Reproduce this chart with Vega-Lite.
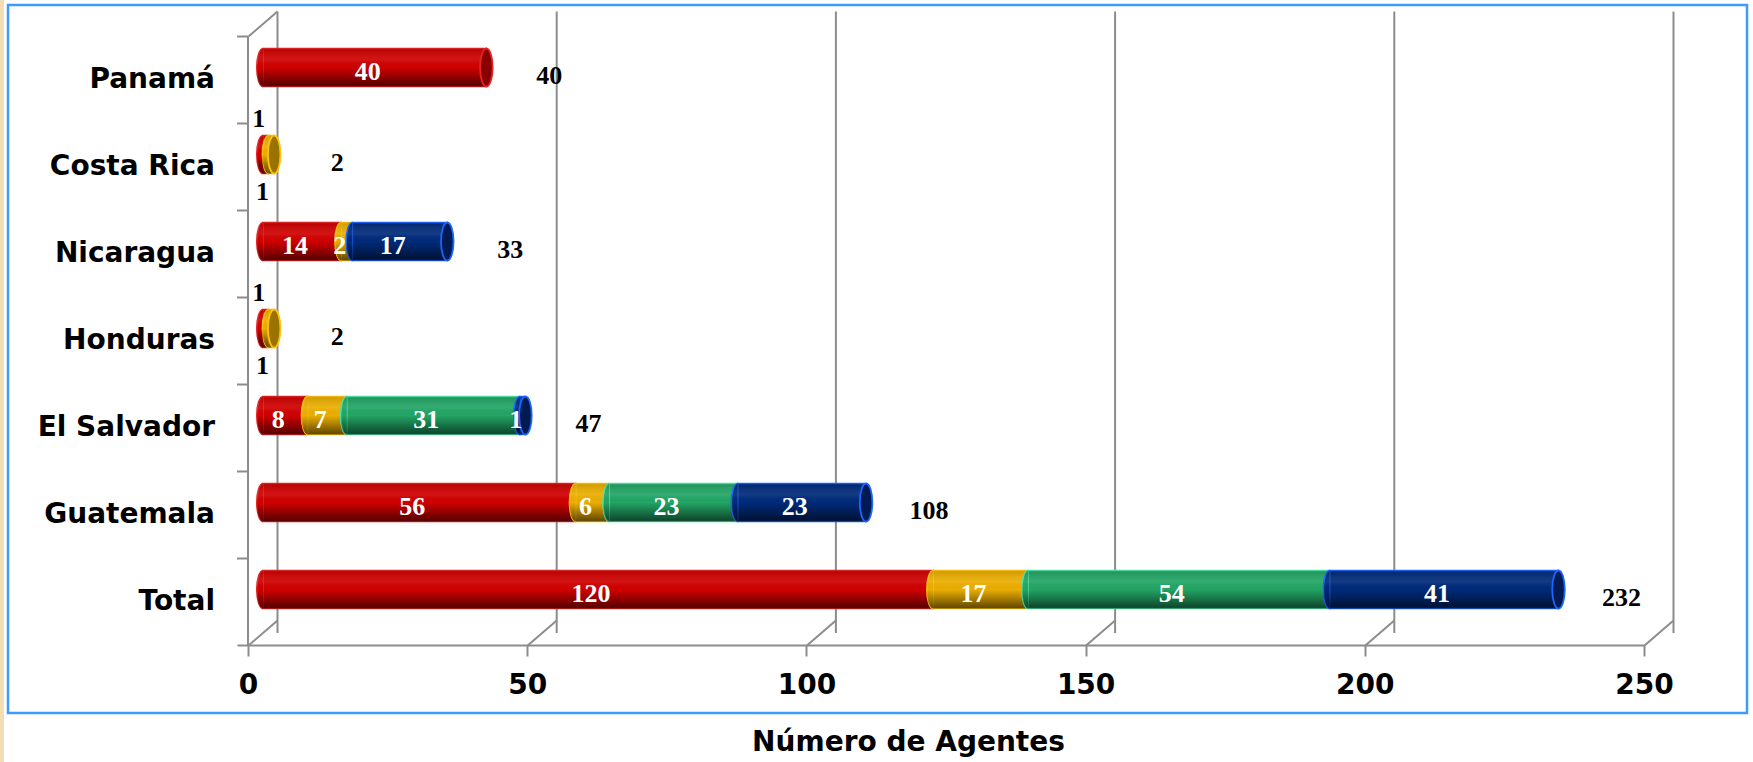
{
  "$schema": "https://vega.github.io/schema/vega-lite/v6.json",
  "autosize": "none",
  "width": 1396,
  "height": 609,
  "padding": {"left": 263, "top": 24, "right": 94, "bottom": 129},
  "background": "white",
  "config": {
    "view": {"stroke": null},
    "axis": {"labelFont": "DejaVu Sans", "titleFont": "DejaVu Sans"}
  },
  "datasets": {
    "agentes": [
      {"pais": "Panamá", "serie": "Serie 1", "valor": 40},
      {"pais": "Costa Rica", "serie": "Serie 1", "valor": 1},
      {"pais": "Costa Rica", "serie": "Serie 2", "valor": 1},
      {"pais": "Nicaragua", "serie": "Serie 1", "valor": 14},
      {"pais": "Nicaragua", "serie": "Serie 2", "valor": 2},
      {"pais": "Nicaragua", "serie": "Serie 4", "valor": 17},
      {"pais": "Honduras", "serie": "Serie 1", "valor": 1},
      {"pais": "Honduras", "serie": "Serie 2", "valor": 1},
      {"pais": "El Salvador", "serie": "Serie 1", "valor": 8},
      {"pais": "El Salvador", "serie": "Serie 2", "valor": 7},
      {"pais": "El Salvador", "serie": "Serie 3", "valor": 31},
      {"pais": "El Salvador", "serie": "Serie 4", "valor": 1},
      {"pais": "Guatemala", "serie": "Serie 1", "valor": 56},
      {"pais": "Guatemala", "serie": "Serie 2", "valor": 6},
      {"pais": "Guatemala", "serie": "Serie 3", "valor": 23},
      {"pais": "Guatemala", "serie": "Serie 4", "valor": 23},
      {"pais": "Total", "serie": "Serie 1", "valor": 120},
      {"pais": "Total", "serie": "Serie 2", "valor": 17},
      {"pais": "Total", "serie": "Serie 3", "valor": 54},
      {"pais": "Total", "serie": "Serie 4", "valor": 41}
    ],
    "rejilla": [{"v": 0}, {"v": 50}, {"v": 100}, {"v": 150}, {"v": 200}, {"v": 250}]
  },
  "data": {"name": "agentes"},
  "transform": [
    {"stack": "valor", "groupby": ["pais"], "sort": [{"field": "serie", "order": "ascending"}], "as": ["x0", "x1"]}
  ],
  "layer": [
    {
      "data": {"values": [{}]},
      "mark": {"type": "rect", "fill": "#F3DDB3", "stroke": null},
      "encoding": {"x": {"value": -263}, "x2": {"value": -259}, "y": {"value": -24}, "y2": {"value": 738}}
    },
    {
      "data": {"values": [{}]},
      "mark": {"type": "rect", "fill": null, "stroke": "#3D9BFF", "strokeWidth": 2.5},
      "encoding": {"x": {"value": -255}, "x2": {"value": 1484}, "y": {"value": -19}, "y2": {"value": 689}}
    },
    {
      "data": {"name": "rejilla"},
      "mark": {"type": "rule", "color": "#8C8C8C", "strokeWidth": 2, "xOffset": 14.5, "yOffset": -12.5, "y2Offset": -12.5},
      "encoding": {"x": {"field": "v", "type": "quantitative", "title": "Número de Agentes"}}
    },
    {
      "data": {"name": "rejilla"},
      "mark": {"type": "rule", "color": "#8C8C8C", "strokeWidth": 2, "xOffset": -14.5, "x2Offset": 14.5, "yOffset": 12.5, "y2Offset": -12.5},
      "encoding": {"x": {"field": "v", "type": "quantitative", "title": "Número de Agentes"}, "x2": {"field": "v"}, "y": {"value": 609}, "y2": {"value": 609}}
    },
    {
      "data": {"values": [{"v": 0}]},
      "mark": {"type": "rule", "color": "#8C8C8C", "strokeWidth": 2, "xOffset": -14.5, "x2Offset": 14.5, "yOffset": 12.5, "y2Offset": -12.5},
      "encoding": {"x": {"field": "v", "type": "quantitative", "title": "Número de Agentes"}, "x2": {"field": "v"}, "y": {"value": 0}, "y2": {"value": 0}}
    },
    {
      "data": {"values": [{"v": 0}]},
      "mark": {"type": "rule", "color": "#8C8C8C", "strokeWidth": 2, "xOffset": -25.5, "x2Offset": -14.5, "yOffset": 12.5, "y2Offset": 12.5},
      "encoding": {"x": {"field": "v", "type": "quantitative", "title": "Número de Agentes"}, "x2": {"field": "v"}, "y": {"value": 609}, "y2": {"value": 609}}
    },
    {
      "mark": {"type": "bar", "height": 38, "strokeWidth": 1.5},
      "encoding": {
        "y": {
          "field": "pais", "type": "nominal",
          "scale": {"domain": ["Panamá", "Costa Rica", "Nicaragua", "Honduras", "El Salvador", "Guatemala", "Total"], "paddingInner": 0, "paddingOuter": 0},
          "axis": {"title": null, "bandPosition": 0, "offset": 27.5, "translate": 12.5,
            "domainColor": "#8C8C8C", "domainWidth": 2, "tickColor": "#8C8C8C", "tickWidth": 2, "tickSize": 11,
            "labelPadding": 22, "labelFontSize": 28, "labelFontWeight": "bold", "labelColor": "black"}
        },
        "x": {
          "field": "x0", "type": "quantitative", "title": "Número de Agentes",
          "scale": {"domain": [0, 250], "nice": false, "zero": true},
          "axis": {"values": [0, 50, 100, 150, 200, 250], "grid": false, "offset": 27, "translate": -14.5,
            "domainColor": "#8C8C8C", "domainWidth": 2, "tickColor": "#8C8C8C", "tickWidth": 2, "tickSize": 11,
            "labelPadding": 15, "labelFontSize": 28, "labelFontWeight": "bold", "labelColor": "black", "labelFlush": false,
            "titleFontSize": 28, "titleFontWeight": "bold", "titleColor": "black", "titleX": 660, "titleY": 97, "titleBaseline": "middle", "titleAlign": "center"}
        },
        "x2": {"field": "x1"},
        "color": {"field": "serie", "type": "nominal", "legend": null,
          "scale": {"domain": ["Serie 1", "Serie 2", "Serie 3", "Serie 4"], "range": ["#D00000", "#EBAE00", "#22A565", "#002A7A"]}},
        "stroke": {"field": "serie", "type": "nominal", "legend": null,
          "scale": {"domain": ["Serie 1", "Serie 2", "Serie 3", "Serie 4"], "range": ["#E32424", "#FFC20A", "#4FE3A6", "#1A66FF"]}}
      }
    },
    {
      "mark": {"type": "bar", "height": 38, "strokeWidth": 0,
        "fill": {"gradient": "linear", "x1": 0, "y1": 0, "x2": 0, "y2": 1,
          "stops": [{"offset": 0, "color": "rgba(0,0,0,0.12)"}, {"offset": 0.3, "color": "rgba(255,255,255,0.08)"}, {"offset": 0.5, "color": "rgba(0,0,0,0)"}, {"offset": 1, "color": "rgba(0,0,0,0.6)"}]}},
      "encoding": {
        "y": {"field": "pais", "type": "nominal"},
        "x": {"field": "x0", "type": "quantitative", "title": "Número de Agentes"},
        "x2": {"field": "x1"}
      }
    },
    {
      "mark": {"type": "point", "filled": true, "opacity": 1, "size": 1444, "strokeWidth": 1.5,
        "shape": "M0,-1C-0.182,-1,-0.33,-0.552,-0.33,0C-0.33,0.552,-0.182,1,0,1"},
      "encoding": {
        "y": {"field": "pais", "type": "nominal"},
        "x": {"field": "x0", "type": "quantitative", "title": "Número de Agentes"},
        "color": {"field": "serie", "type": "nominal", "legend": null},
        "stroke": {"field": "serie", "type": "nominal", "legend": null}
      }
    },
    {
      "mark": {"type": "point", "filled": true, "opacity": 1, "size": 1444, "strokeWidth": 0,
        "shape": "M0,-1C-0.182,-1,-0.33,-0.552,-0.33,0C-0.33,0.552,-0.182,1,0,1",
        "fill": {"gradient": "linear", "x1": 0, "y1": 0, "x2": 0, "y2": 1,
          "stops": [{"offset": 0, "color": "rgba(0,0,0,0.12)"}, {"offset": 0.3, "color": "rgba(255,255,255,0.08)"}, {"offset": 0.5, "color": "rgba(0,0,0,0)"}, {"offset": 1, "color": "rgba(0,0,0,0.6)"}]}},
      "encoding": {
        "y": {"field": "pais", "type": "nominal"},
        "x": {"field": "x0", "type": "quantitative", "title": "Número de Agentes"}
      }
    },
    {
      "transform": [
        {"joinaggregate": [{"op": "max", "field": "x1", "as": "fin"}], "groupby": ["pais"]},
        {"filter": "datum.x1 == datum.fin"}
      ],
      "mark": {"type": "point", "opacity": 1, "size": 1444, "strokeWidth": 1.8,
        "shape": "M0,-1C-0.182,-1,-0.33,-0.552,-0.33,0C-0.33,0.552,-0.182,1,0,1C0.182,1,0.33,0.552,0.33,0C0.33,-0.552,0.182,-1,0,-1Z"},
      "encoding": {
        "y": {"field": "pais", "type": "nominal"},
        "x": {"field": "x1", "type": "quantitative", "title": "Número de Agentes"},
        "fill": {"field": "serie", "type": "nominal", "legend": null,
          "scale": {"domain": ["Serie 1", "Serie 2", "Serie 3", "Serie 4"], "range": ["#880000", "#9B7200", "#146B43", "#001A52"]}},
        "stroke": {"field": "serie", "type": "nominal", "legend": null}
      }
    },
    {
      "transform": [
        {"filter": "datum.pais != 'Costa Rica' && datum.pais != 'Honduras'"},
        {"fold": ["x0", "x1"], "as": ["extremo", "pos"]},
        {"aggregate": [{"op": "mean", "field": "pos", "as": "medio"}, {"op": "max", "field": "valor", "as": "valor"}], "groupby": ["pais", "serie"]}
      ],
      "mark": {"type": "text", "font": "Liberation Serif", "fontWeight": "bold", "fontSize": 26, "color": "white", "dx": -7, "dy": 4, "baseline": "middle", "align": "center"},
      "encoding": {
        "y": {"field": "pais", "type": "nominal"},
        "x": {"field": "medio", "type": "quantitative", "title": "Número de Agentes"},
        "text": {"field": "valor", "type": "quantitative"}
      }
    },
    {
      "transform": [
        {"filter": "(datum.pais == 'Costa Rica' || datum.pais == 'Honduras') && datum.serie == 'Serie 1'"},
        {"fold": ["x0", "x1"], "as": ["extremo", "pos"]},
        {"aggregate": [{"op": "mean", "field": "pos", "as": "medio"}, {"op": "max", "field": "valor", "as": "valor"}], "groupby": ["pais", "serie"]}
      ],
      "mark": {"type": "text", "font": "Liberation Serif", "fontWeight": "bold", "fontSize": 26, "color": "black", "dx": -7, "dy": -36, "baseline": "middle", "align": "center"},
      "encoding": {
        "y": {"field": "pais", "type": "nominal"},
        "x": {"field": "medio", "type": "quantitative", "title": "Número de Agentes"},
        "text": {"field": "valor", "type": "quantitative"}
      }
    },
    {
      "transform": [
        {"filter": "(datum.pais == 'Costa Rica' || datum.pais == 'Honduras') && datum.serie == 'Serie 2'"},
        {"fold": ["x0", "x1"], "as": ["extremo", "pos"]},
        {"aggregate": [{"op": "mean", "field": "pos", "as": "medio"}, {"op": "max", "field": "valor", "as": "valor"}], "groupby": ["pais", "serie"]}
      ],
      "mark": {"type": "text", "font": "Liberation Serif", "fontWeight": "bold", "fontSize": 26, "color": "black", "dx": -9, "dy": 37, "baseline": "middle", "align": "center"},
      "encoding": {
        "y": {"field": "pais", "type": "nominal"},
        "x": {"field": "medio", "type": "quantitative", "title": "Número de Agentes"},
        "text": {"field": "valor", "type": "quantitative"}
      }
    },
    {
      "transform": [{"aggregate": [{"op": "sum", "field": "valor", "as": "total"}], "groupby": ["pais"]}],
      "mark": {"type": "text", "font": "Liberation Serif", "fontWeight": "bold", "fontSize": 26, "color": "black", "dx": 63, "dy": 8, "baseline": "middle", "align": "center"},
      "encoding": {
        "y": {"field": "pais", "type": "nominal"},
        "x": {"field": "total", "type": "quantitative", "title": "Número de Agentes"},
        "text": {"field": "total", "type": "quantitative"}
      }
    }
  ]
}
